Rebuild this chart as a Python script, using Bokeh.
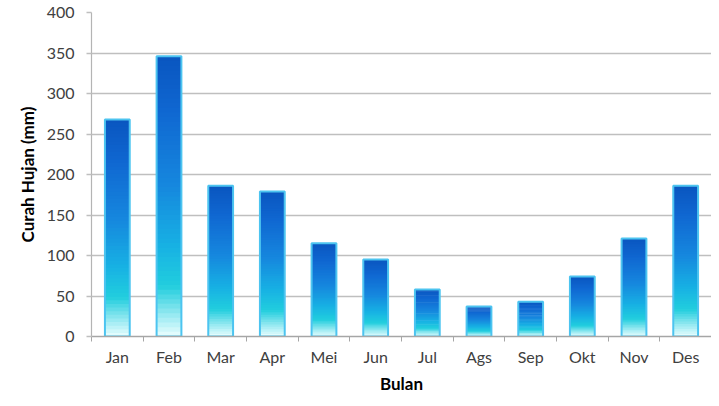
import numpy as np
from bokeh.plotting import figure
from bokeh.models import Range1d, FixedTicker, ColumnDataSource
from bokeh.embed import file_html
from bokeh.resources import INLINE

months = ["Jan", "Feb", "Mar", "Apr", "Mei", "Jun", "Jul", "Ags", "Sep", "Okt", "Nov", "Des"]
rainfall = [268, 346, 186, 179, 115, 95, 58, 37, 43, 74, 121, 186]
y_ticks = [0, 50, 100, 150, 200, 250, 300, 350, 400]

# gradient stops (fraction of bar height from bottom, colour)
grad_pos = [0.0, 0.06, 0.18, 0.32, 0.55, 0.80, 1.0]
grad_col = [(235, 255, 255), (170, 238, 245), (34, 206, 222), (24, 178, 228), (22, 134, 222), (16, 104, 210), (10, 86, 192)]

def interp_col(f):
    r = np.interp(f, grad_pos, [c[0] for c in grad_col])
    g = np.interp(f, grad_pos, [c[1] for c in grad_col])
    b = np.interp(f, grad_pos, [c[2] for c in grad_col])
    return "#%02x%02x%02x" % (int(r), int(g), int(b))

centers = [i + 0.5 for i in range(len(months))]
bar_w = 0.48
N = 60
xs, bots, tops, cols = [], [], [], []
for c, v in zip(centers, rainfall):
    for k in range(N):
        xs.append(c)
        bots.append(v * k / N)
        tops.append(min(v, v * (k + 1.8) / N))
        cols.append(interp_col((k + 0.5) / N))
seg = ColumnDataSource(dict(x=xs, bottom=bots, top=tops, color=cols))
bars = ColumnDataSource(dict(x=centers, top=rainfall))

p = figure(width=711, height=398, output_backend="svg", toolbar_location=None,
           x_range=Range1d(0, 12), y_range=Range1d(0, 400),
           min_border_left=91, min_border_right=0, min_border_top=12, min_border_bottom=62)
p.outline_line_color = None
p.background_fill_color = "white"

p.vbar(x="x", bottom="bottom", top="top", width=bar_w, source=seg,
       fill_color="color", line_color=None)
p.vbar(x="x", bottom=0, top="top", width=bar_w, source=bars,
       fill_color=None, line_color="#4cc4f0", line_width=2)

font = "Lato"
# x axis
p.xaxis.ticker = FixedTicker(ticks=centers, minor_ticks=list(range(0, 13)))
p.xaxis.major_label_overrides = {c: m for c, m in zip(centers, months)}
p.xaxis.major_tick_line_color = None
p.xaxis.major_tick_out = 5
p.xaxis.major_tick_in = 0
p.xaxis.minor_tick_line_color = "#a6a6a6"
p.xaxis.minor_tick_out = 5
p.xaxis.minor_tick_in = 0
p.xaxis.axis_line_color = "#a6a6a6"
p.xaxis.axis_line_width = 1.5
p.xaxis.major_label_standoff = 5
p.xaxis.axis_label = "Bulan"
p.xaxis.axis_label_standoff = 4
p.xgrid.visible = False

# y axis
p.yaxis.ticker = FixedTicker(ticks=y_ticks)
p.yaxis.axis_line_color = "#b4b4b4"
p.yaxis.axis_line_width = 1.2
p.yaxis.major_tick_line_color = "#bfbfbf"
p.yaxis.major_tick_line_width = 1.5
p.yaxis.major_tick_out = 5
p.yaxis.major_tick_in = 0
p.yaxis.minor_tick_line_color = None
p.yaxis.major_label_standoff = 12
p.yaxis.axis_label = "Curah Hujan (mm)"
p.yaxis.axis_label_standoff = 6
p.ygrid.grid_line_color = "#bfbfbf"
p.ygrid.grid_line_width = 1.5

for ax in (p.xaxis, p.yaxis):
    ax.major_label_text_font = font
    ax.major_label_text_font_size = "16px"
    ax.major_label_text_color = "#404040"
    ax.axis_label_text_font = font
    ax.axis_label_text_font_size = "17px"
    ax.axis_label_text_font_style = "bold"
    ax.axis_label_text_color = "#000000"

open("out.html", "w").write(file_html(p, INLINE))
